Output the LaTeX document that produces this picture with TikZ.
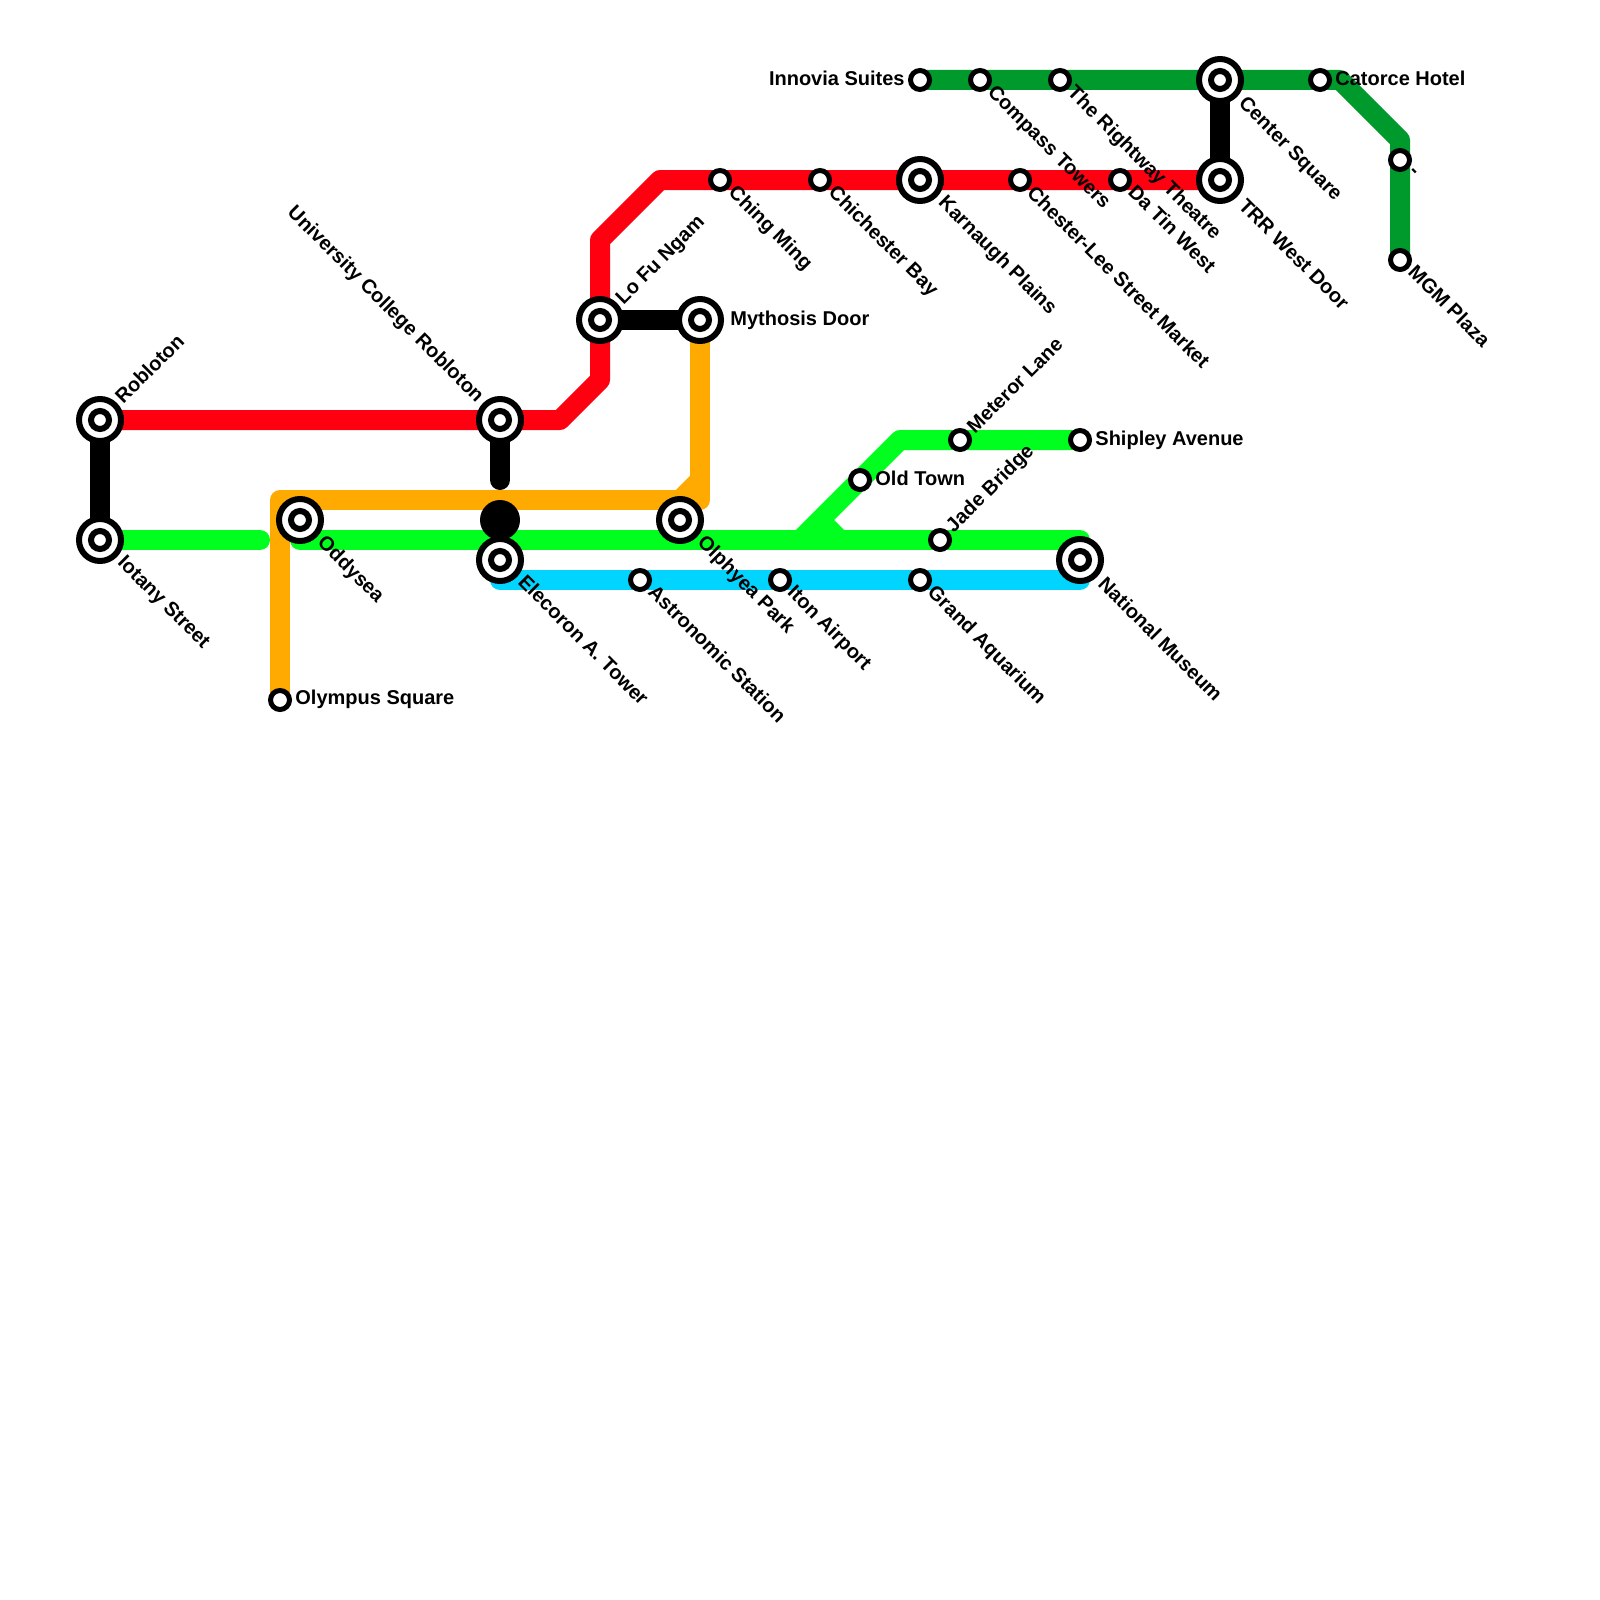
\documentclass[tikz,border=0pt]{standalone}
\usepackage{fontspec}
\setmainfont{Liberation Sans}
\usetikzlibrary{backgrounds}
\definecolor{cred}{RGB}{255,0,17}
\definecolor{cgreen}{RGB}{0,255,30}
\definecolor{cdark}{RGB}{0,153,43}
\definecolor{corange}{RGB}{255,170,0}
\definecolor{ccyan}{RGB}{0,212,255}
\tikzset{
  xouter/.style={circle,draw=black,fill=white,line width=3pt,minimum size=21pt,inner sep=0pt},
  xinner/.style={circle,draw=black,fill=white,line width=3pt,minimum size=9pt,inner sep=0pt},
  smallst/.style={circle,draw=black,fill=white,line width=2.5pt,minimum size=9.5pt,inner sep=0pt},
  blob/.style={circle,fill=black,minimum size=20pt,inner sep=0pt},
  lbl/.style={inner sep=0pt,font=\bfseries\fontsize{10}{12}\selectfont,text=black},
  dn/.style={lbl,rotate=-45,anchor=west},
  up/.style={lbl,rotate=45,anchor=west},
  rr/.style={lbl,anchor=west},
  ll/.style={lbl,anchor=east},
  route/.style={line width=10pt,line join=round},
  routecap/.style={route,line cap=round}
}
\newcommand{\xst}[3]{\node[xouter] (#1) at (#2,#3) {}; \node[xinner] (#1-i) at (#2,#3) {};}
\newcommand{\sst}[3]{\node[smallst] (#1) at (#2,#3) {};}
\newcommand{\lab}[5]{\node[#4] (#1-l) at ([shift={(#2,#3)}]#1.center) {#5};}
\begin{document}
\begin{tikzpicture}[x=0.5pt,y=-0.5pt]
\useasboundingbox (0,0) rectangle (1600,1600);
% stations
\xst{rob}{100}{420}
\xst{iot}{100}{540}
\xst{ucr}{500}{420}
\xst{odd}{300}{520}
\xst{ele}{500}{560}
\xst{olp}{680}{520}
\xst{lfn}{600}{320}
\xst{myt}{700}{320}
\xst{kar}{920}{180}
\xst{trr}{1220}{180}
\xst{cen}{1220}{80}
\xst{nat}{1080}{560}
\sst{oly}{280}{700}
\sst{chi}{720}{180}
\sst{chb}{820}{180}
\sst{che}{1020}{180}
\sst{dat}{1120}{180}
\sst{inn}{920}{80}
\sst{com}{980}{80}
\sst{rig}{1060}{80}
\sst{cat}{1320}{80}
\sst{das}{1400}{160}
\sst{mgm}{1400}{260}
\sst{shi}{1080}{440}
\sst{met}{960}{440}
\sst{old}{860}{480}
\sst{jad}{940}{540}
\sst{gra}{920}{580}
\sst{ito}{780}{580}
\sst{ast}{640}{580}
% bends and free ends
\coordinate (r1) at (560,420);
\coordinate (r2) at (600,380);
\coordinate (r3) at (600,240);
\coordinate (r4) at (660,180);
\coordinate (d1) at (1340,80);
\coordinate (d2) at (1400,140);
\coordinate (o1) at (280,500);
\coordinate (o2) at (700,500);
\coordinate (o3) at (680,500);
\coordinate (o4) at (700,480);
\coordinate (g1) at (260,540);
\coordinate (g2) at (300,540);
\coordinate (g3) at (1080,540);
\coordinate (g4) at (800,540);
\coordinate (g5) at (900,440);
\coordinate (g6) at (820,520);
\coordinate (g7) at (840,540);
\coordinate (c1) at (500,580);
\coordinate (c2) at (1080,580);
\coordinate (b1) at (500,480);
\begin{scope}[on background layer]
\fill[white] (0,0) rectangle (1600,1600);
\draw[route,cgreen] (shi.center) -- (g5) -- (g4);
\draw[route,cgreen] (g6) -- (g7);
\draw[routecap,cgreen] (iot.center) -- (g1);
\draw[routecap,cgreen] (g2) -- (g3) -- (nat.center);
\draw[routecap,ccyan] (ele.center) -- (c1) -- (c2) -- (nat.center);
\draw[route,cred] (rob.center) -- (r1) -- (r2) -- (r3) -- (r4) -- (trr.center);
\draw[route,cdark] (inn.center) -- (d1) -- (d2) -- (mgm.center);
\draw[route,corange] (oly.center) -- (o1) -- (o2) -- (myt.center);
\draw[route,corange] (o3) -- (o4);
\draw[route,black] (rob.center) -- (iot.center);
\draw[routecap,black] (ucr.center) -- (b1);
\draw[route,black] (lfn.center) -- (myt.center);
\draw[route,black] (cen.center) -- (trr.center);
\node[blob] (hub) at (500,520) {};
\end{scope}
% labels
\lab{rob}{18}{-20}{up}{Robloton}
\lab{iot}{20}{20}{dn}{Iotany Street}
\lab{ucr}{-20}{-20}{lbl,rotate=-45,anchor=east}{University College Robloton}
\lab{odd}{20}{20}{dn}{Oddysea}
\lab{ele}{22}{18}{dn}{Elecoron A. Tower}
\lab{olp}{20}{20}{dn}{Olphyea Park}
\lab{lfn}{20}{-18}{up}{Lo Fu Ngam}
\lab{myt}{30}{0}{rr}{Mythosis Door}
\lab{kar}{21}{20}{dn}{Karnaugh Plains}
\lab{trr}{22}{22}{dn}{TRR West Door}
\lab{cen}{21}{21}{dn}{Center Square}
\lab{nat}{22}{20}{dn}{National Museum}
\lab{oly}{15}{-1}{rr}{Olympus Square}
\lab{chi}{11}{10}{dn}{Ching Ming}
\lab{chb}{11}{10}{dn}{Chichester Bay}
\lab{che}{11}{9}{dn}{Chester-Lee Street Market}
\lab{dat}{12}{8}{dn}{Da Tin West}
\lab{inn}{-15}{-2}{ll}{Innovia Suites}
\lab{com}{10}{10}{dn}{Compass Towers}
\lab{rig}{10}{10}{dn}{The Rightway Theatre}
\lab{cat}{15}{-2}{rr}{Catorce Hotel}
\lab{das}{10}{10}{dn}{-}
\lab{mgm}{12}{8}{dn}{MGM Plaza}
\lab{shi}{15}{0}{rr}{Shipley Avenue}
\lab{met}{10}{-10}{up}{Meteror Lane}
\lab{old}{15}{-2}{rr}{Old Town}
\lab{jad}{10}{-10}{up}{Jade Bridge}
\lab{gra}{10}{10}{dn}{Grand Aquarium}
\lab{ito}{10}{10}{dn}{Iton Airport}
\lab{ast}{12}{8}{dn}{Astronomic Station}
\end{tikzpicture}
\end{document}
